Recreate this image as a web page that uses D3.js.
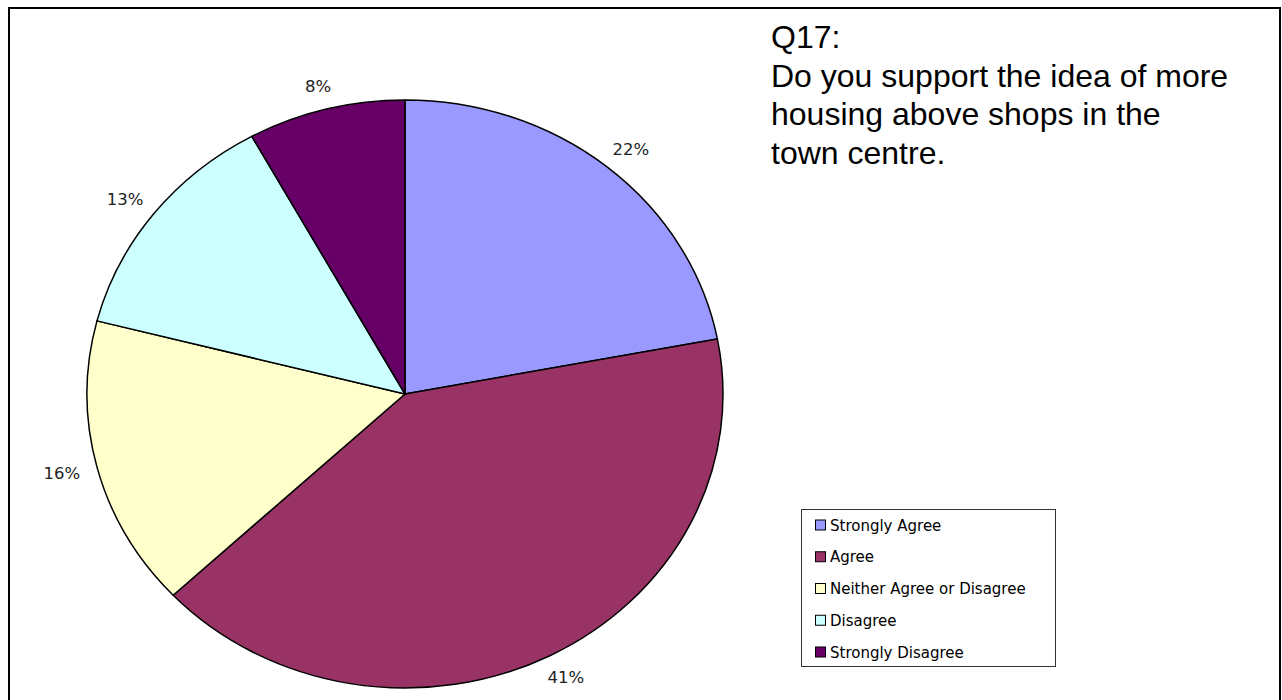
<!DOCTYPE html>
<html>
<head>
<meta charset="utf-8">
<script src="https://cdn.jsdelivr.net/npm/d3@7"></script>
<style>
  body { margin: 0; background: #ffffff; }
  svg { display: block; }
</style>
</head>
<body>
<svg id="chart" width="1282" height="700"></svg>
<script>
// Survey responses for Q17
const categories = ["Strongly Agree", "Agree", "Neither Agree or Disagree", "Disagree", "Strongly Disagree"];
const values = [22, 41, 16, 13, 8];
const percentLabels = ["22%", "41%", "16%", "13%", "8%"];
const colors = ["#9999FF", "#993366", "#FFFFCC", "#CCFFFF", "#660066"];
const titleLines = ["Q17:", "Do you support the idea of more", "housing above shops in the", "town centre."];

const svg = d3.select("#chart");

// Outer frame
svg.append("rect")
  .attr("x", 9).attr("y", 8)
  .attr("width", 1271).attr("height", 700)
  .attr("fill", "#ffffff")
  .attr("stroke", "#000000")
  .attr("stroke-width", 2);

// Pie geometry (slightly stretched horizontally)
const cx = 405, cy = 394, rx = 318, ry = 294;

const pie = d3.pie().sort(null).value(d => d.value);
const arcs = pie(categories.map((c, i) => ({ name: c, value: values[i], label: percentLabels[i], color: colors[i] })));

const arc = d3.arc().innerRadius(0).outerRadius(ry);

const pieG = svg.append("g")
  .attr("transform", `translate(${cx},${cy}) scale(${rx / ry},1)`);

pieG.selectAll("path.slice")
  .data(arcs)
  .enter().append("path")
  .attr("class", "slice")
  .attr("d", arc)
  .attr("fill", d => d.data.color)
  .attr("stroke", "#000000")
  .attr("stroke-width", 1.5)
  .attr("stroke-linejoin", "round")
  .attr("vector-effect", "non-scaling-stroke");

// Percentage labels just outside each slice
const labelG = svg.append("g");
arcs.forEach(d => {
  const a = (d.startAngle + d.endAngle) / 2;
  const s = Math.sin(a), c = -Math.cos(a);
  const t = labelG.append("text")
    .attr("font-family", "'DejaVu Sans', Verdana, sans-serif")
    .attr("font-size", 16.5)
    .attr("fill", "#222222")
    .attr("text-anchor", "middle")
    .text(d.data.label);
  const w = t.node().getComputedTextLength();
  const h = 12;
  const gap = 18;
  const px = cx + rx * s + s * (w / 2 + gap);
  const py = cy + ry * c + c * (h / 2 + gap);
  t.attr("x", px).attr("y", py + h / 2);
});

// Title block
svg.append("g")
  .selectAll("text")
  .data(titleLines)
  .enter().append("text")
  .attr("x", 771)
  .attr("y", (d, i) => 48 + i * 38.5)
  .attr("font-family", "'Liberation Sans', Arial, sans-serif")
  .attr("font-size", 32)
  .attr("fill", "#000000")
  .text(d => d);

// Legend
const legend = svg.append("g");
legend.append("rect")
  .attr("x", 801.5).attr("y", 509.5)
  .attr("width", 254).attr("height", 157)
  .attr("fill", "#ffffff")
  .attr("stroke", "#333333")
  .attr("stroke-width", 1);

const rowY = d3.scalePoint().domain(categories).range([525, 652]);

const rows = legend.selectAll("g.row")
  .data(arcs)
  .enter().append("g")
  .attr("class", "row")
  .attr("transform", d => `translate(0,${rowY(d.data.name)})`);

rows.append("rect")
  .attr("x", 815.5).attr("y", -5)
  .attr("width", 10).attr("height", 10)
  .attr("fill", d => d.data.color)
  .attr("stroke", "#000000")
  .attr("stroke-width", 1);

rows.append("text")
  .attr("x", 830)
  .attr("y", 5.5)
  .attr("font-family", "'DejaVu Sans', Verdana, sans-serif")
  .attr("font-size", 15)
  .attr("fill", "#000000")
  .text(d => d.data.name);
</script>
</body>
</html>
